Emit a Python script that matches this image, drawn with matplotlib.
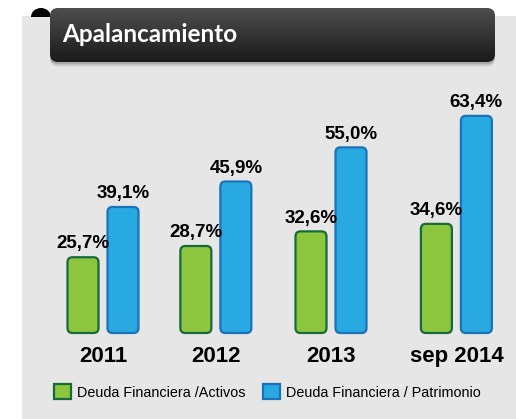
import numpy as np
import matplotlib
matplotlib.use("Agg")
import matplotlib.pyplot as plt
from matplotlib.colors import LinearSegmentedColormap
from matplotlib.patches import FancyBboxPatch, Rectangle, Patch, Ellipse

# data
periods = ["2011", "2012", "2013", "sep 2014"]
positions = [0, 0.99, 2.0, 3.1]
deuda_activos = [25.7, 28.7, 32.6, 34.6]
deuda_patrimonio = [39.1, 45.9, 55.0, 63.4]
series_names = ["Deuda Financiera /Activos", "Deuda Financiera / Patrimonio"]

green, green_edge = "#8cc63f", "#17693a"
blue, blue_edge = "#29a9e1", "#1a72b8"
bg_gray = "#e6e6e6"

W, H = 516, 419
fig = plt.figure(figsize=(W / 100, H / 100), dpi=100)
fig.patch.set_facecolor("white")

# overlay axes in pixel units for decorations
deco = fig.add_axes([0, 0, 1, 1], zorder=0)
deco.axis("off")
deco.add_patch(Rectangle((22, 16), W - 22, H - 16, color=bg_gray, lw=0, zorder=0))

# title box with soft shadow
for i, a in enumerate([0.04, 0.06, 0.08, 0.11]):
    off = 5 - i
    deco.add_patch(FancyBboxPatch((50, 8 + off), 445, 54,
                                  boxstyle="round,pad=0,rounding_size=8",
                                  fc="black", ec="none", alpha=a, zorder=1))
box = FancyBboxPatch((50, 8), 445, 54, boxstyle="round,pad=0,rounding_size=8",
                     fc="none", ec="none", zorder=2)
deco.add_patch(box)
grad = np.linspace(0, 1, 100).reshape(-1, 1)
cmap = LinearSegmentedColormap.from_list("title", ["#4e4e4e", "#1a1a1a"])
im = deco.imshow(grad, extent=(50, 495, 62, 8), cmap=cmap, aspect="auto",
                 origin="upper", vmin=0, vmax=1, zorder=3)
im.set_clip_path(box)
# little rolled corner at top-left of the ribbon
deco.add_patch(Ellipse((41, 17), 20, 18, fc="black", ec="none", zorder=1.5))
deco.add_patch(Rectangle((30, 17), 21, 12, fc=bg_gray, ec="none", zorder=1.6))
deco.text(62, 34, "Apalancamiento", color="white", fontsize=17.5, family="Lato",
          fontweight="bold", va="center", ha="left", zorder=4)
deco.set_xlim(0, W)
deco.set_ylim(H, 0)

# main axes: pixel geometry
left_px, right_px, bottom_px, top_px = 22, 516, 333, 70
ax = fig.add_axes([left_px / W, (H - bottom_px) / H, (right_px - left_px) / W,
                   (bottom_px - top_px) / H], zorder=1)
ax.patch.set_alpha(0)
px_per_x = 114.0
px_per_y = 3.75
base = 5.5
ax.set_xlim((left_px - 103) / px_per_x, (right_px - 103) / px_per_x)
ax.set_ylim(base, base + (bottom_px - top_px) / px_per_y)
for s in ax.spines.values():
    s.set_visible(False)

bar_w = 31 / px_per_x
offset = 20 / px_per_x
rx = 5 / px_per_x
aspect = px_per_x / px_per_y

for xs, vals, fc, ec in [(np.array(positions) - offset, deuda_activos, green, green_edge),
                         (np.array(positions) + offset, deuda_patrimonio, blue, blue_edge)]:
    for x, v in zip(xs, vals):
        p = FancyBboxPatch((x - bar_w / 2, base), bar_w, v - base,
                           boxstyle=f"round,pad=0,rounding_size={rx}",
                           mutation_aspect=aspect, fc=fc, ec=ec, lw=1.6, clip_on=False)
        ax.add_patch(p)
        ax.annotate(f"{v:.1f}%".replace(".", ","), (x, v), xytext=(0, 3.5),
                    textcoords="offset points", ha="center", va="bottom",
                    fontsize=13.5, fontweight="bold", family="Liberation Sans")

ax.set_yticks([])
ax.set_xticks(positions)
ax.set_xticklabels(periods, fontsize=16, fontweight="bold", family="Liberation Sans")
ax.tick_params(axis="x", length=0, pad=9)

handles = [Patch(fc=green, ec=green_edge, lw=1.6), Patch(fc=blue, ec=blue_edge, lw=1.6)]
leg = fig.legend(handles, series_names, loc="center left",
                 bbox_to_anchor=(41 / W, (H - 392) / H), ncol=2, frameon=False,
                 prop={"family": "Liberation Sans", "size": 10.4},
                 handlelength=1.2, handleheight=1.2, handletextpad=0.4,
                 columnspacing=1.2)

fig.savefig("out.png", dpi=100, facecolor=fig.get_facecolor())
